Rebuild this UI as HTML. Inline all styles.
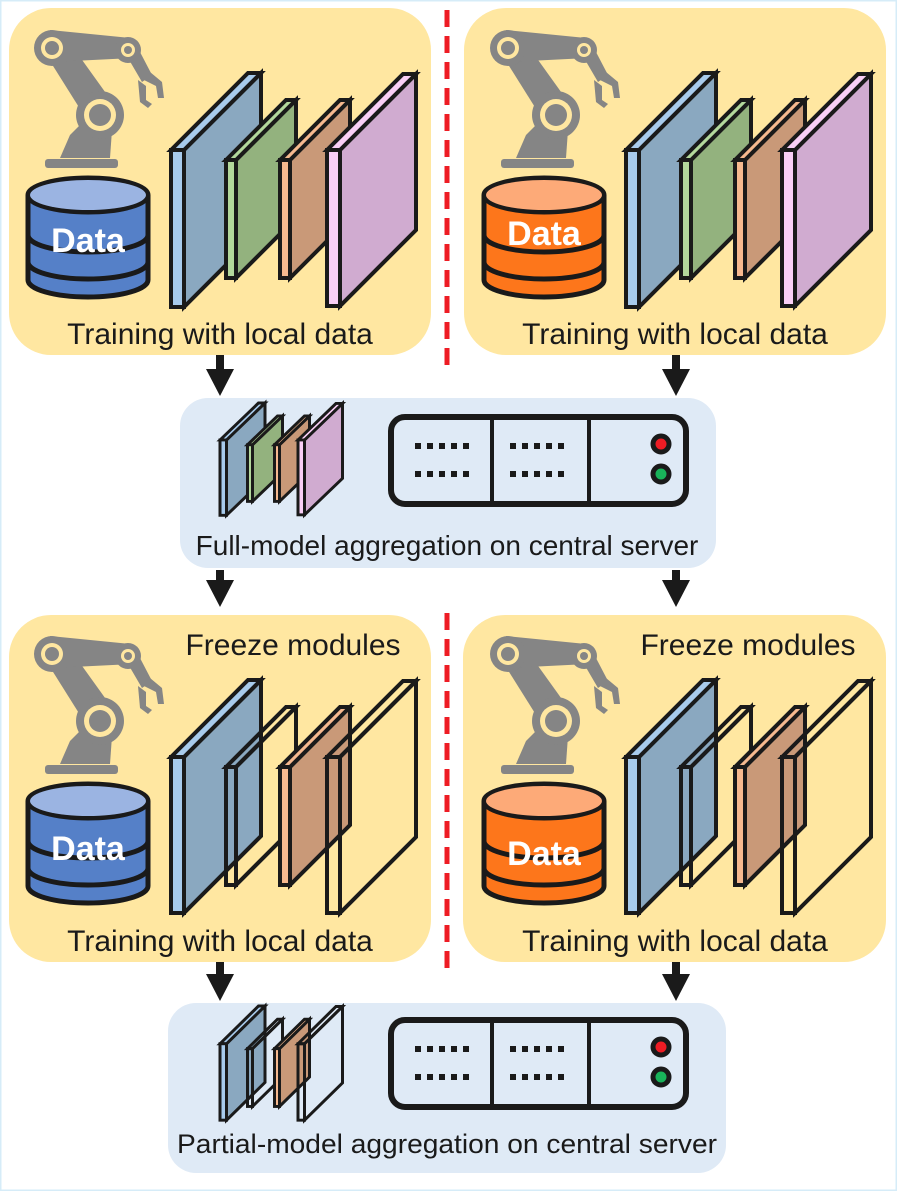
<!DOCTYPE html>
<html><head><meta charset="utf-8"><style>
html,body{margin:0;padding:0;background:#fff}
svg{display:block}
text{font-family:"Liberation Sans",sans-serif}
</style></head><body>
<svg width="897" height="1191" viewBox="0 0 897 1191" xmlns="http://www.w3.org/2000/svg">
<defs>
<g id="robot" fill="#858585">
  <rect x="45" y="159" width="73" height="9" rx="3"/>
  <polygon points="60,158 110,158 112,130 85,120 70,135"/>
  <polygon points="38,42 62,32 118,110 92,128"/>
  <circle cx="100" cy="115" r="24"/>
  <circle cx="100" cy="115" r="16" fill="#ffe7a1"/>
  <circle cx="100" cy="115" r="11"/>
  <polygon points="50,30 130,38 132,58 52,62"/>
  <circle cx="52" cy="48" r="18"/>
  <circle cx="52" cy="48" r="11" fill="#ffe7a1"/>
  <circle cx="52" cy="48" r="7"/>
  <circle cx="128" cy="50" r="13"/>
  <circle cx="128" cy="50" r="7" fill="#ffe7a1"/>
  <circle cx="128" cy="50" r="4"/>
  <polygon points="128,58 140,52 152,75 142,82"/>
  <polygon points="140,78 150,72 162,82 164,98 158,98 156,86"/>
  <polygon points="138,80 146,86 146,100 152,104 148,108 140,102"/>
</g>
<g id="db" stroke="#1a1a1a" stroke-width="5">
  <path d="M28,195 V280 A60,17 0 0 0 148,280 V195" />
  <ellipse cx="88" cy="195" rx="60" ry="17"/>
  <path d="M28,235 A60,17 0 0 0 148,235" fill="none"/>
  <path d="M28,262 A60,17 0 0 0 148,262" fill="none"/>
</g>
<g id="stackFull" stroke="#1a1a1a" stroke-linejoin="miter">
 <polygon points="184,150 261,73 261,230 184,307" fill="#8aa8c0"/>
 <polygon points="171,150 248,73 261,73 184,150" fill="#a8cbec"/>
 <rect x="171" y="150" width="13" height="157" fill="#a8cbec"/>
 <polygon points="236,160 296,100 296,218 236,278" fill="#93b27e"/>
 <polygon points="226,160 286,100 296,100 236,160" fill="#b3d89c"/>
 <rect x="226" y="160" width="10" height="118" fill="#b3d89c"/>
 <polygon points="290,160 350,100 350,218 290,278" fill="#c99978"/>
 <polygon points="280,160 340,100 350,100 290,160" fill="#f6b98f"/>
 <rect x="280" y="160" width="10" height="118" fill="#f6b98f"/>
 <polygon points="340,150 416,74 416,230 340,306" fill="#d0abd0"/>
 <polygon points="327,150 403,74 416,74 340,150" fill="#f9cff6"/>
 <rect x="327" y="150" width="13" height="156" fill="#f9cff6"/>
</g>
<g id="stackPart" stroke="#1a1a1a" stroke-linejoin="miter">
 <polygon points="184,757 261,680 261,836 184,913" fill="#8aa8c0"/>
 <polygon points="171,757 248,680 261,680 184,757" fill="#a8cbec"/>
 <rect x="171" y="757" width="13" height="156" fill="#a8cbec"/>
 <polygon points="236,767 296,707 296,825 236,885" fill="none"/>
 <polygon points="226,767 286,707 296,707 236,767" fill="none"/>
 <rect x="226" y="767" width="10" height="118" fill="none"/>
 <polygon points="290,767 350,707 350,825 290,885" fill="#c99978"/>
 <polygon points="280,767 340,707 350,707 290,767" fill="#f6b98f"/>
 <rect x="280" y="767" width="10" height="118" fill="#f6b98f"/>
 <polygon points="340,757 416,681 416,837 340,913" fill="none"/>
 <polygon points="327,757 403,681 416,681 340,757" fill="none"/>
 <rect x="327" y="757" width="13" height="156" fill="none"/>
</g>
<g id="server" stroke="#1a1a1a" fill="none">
 <rect x="391" y="417" width="295" height="87" rx="14" stroke-width="6"/>
 <line x1="492" y1="417" x2="492" y2="504" stroke-width="4"/>
 <line x1="589" y1="417" x2="589" y2="504" stroke-width="4"/>
 <line x1="415" y1="446" x2="470" y2="446" stroke-width="6" stroke-dasharray="6,6"/>
 <line x1="415" y1="474" x2="470" y2="474" stroke-width="6" stroke-dasharray="6,6"/>
 <line x1="510" y1="446" x2="565" y2="446" stroke-width="6" stroke-dasharray="6,6"/>
 <line x1="510" y1="474" x2="565" y2="474" stroke-width="6" stroke-dasharray="6,6"/>
 <circle cx="661" cy="444" r="8" fill="#ee1c24" stroke-width="5"/>
 <circle cx="661" cy="474" r="8" fill="#19b35a" stroke-width="5"/>
</g>
</defs>

<rect x="0.5" y="0.5" width="896" height="1190" fill="#fff" stroke="#d6ecf8" stroke-width="2"/>

<rect x="9" y="8" width="422" height="347" rx="42" fill="#ffe7a1"/>
<rect x="464" y="8" width="422" height="347" rx="42" fill="#ffe7a1"/>
<rect x="9" y="615" width="422" height="347" rx="42" fill="#ffe7a1"/>
<rect x="463" y="615" width="423" height="347" rx="42" fill="#ffe7a1"/>
<rect x="180" y="398" width="536" height="170" rx="28" fill="#dfeaf6"/>
<rect x="168" y="1003" width="558" height="170" rx="28" fill="#dfeaf6"/>

<line x1="447" y1="10" x2="447" y2="368" stroke="#ee1c24" stroke-width="5" stroke-dasharray="17,9"/>
<line x1="447" y1="613" x2="447" y2="975" stroke="#ee1c24" stroke-width="5" stroke-dasharray="17,9"/>

<g fill="#1a1a1a">
<rect x="216" y="355" width="8" height="16"/><polygon points="206,369 234,369 220,396"/>
<rect x="672" y="355" width="8" height="16"/><polygon points="662,369 690,369 676,396"/>
<rect x="216" y="570" width="8" height="12"/><polygon points="206,580 234,580 220,607"/>
<rect x="672" y="570" width="8" height="12"/><polygon points="662,580 690,580 676,607"/>
<rect x="216" y="962" width="8" height="14"/><polygon points="206,974 234,974 220,1001"/>
<rect x="672" y="962" width="8" height="14"/><polygon points="662,974 690,974 676,1001"/>
</g>

<use href="#robot"/>
<use href="#robot" x="456"/>
<use href="#robot" y="606"/>
<use href="#robot" x="456" y="606"/>
<use href="#db" fill="#5580c8"/>
<ellipse cx="88" cy="195" rx="58" ry="15" fill="#9bb4e2"/>
<use href="#db" x="456" fill="#fd761b"/>
<ellipse cx="544" cy="195" rx="58" ry="15" fill="#fdaa78"/>
<use href="#db" y="606" fill="#5580c8"/>
<ellipse cx="88" cy="801" rx="58" ry="15" fill="#9bb4e2"/>
<use href="#db" x="456" y="606" fill="#fd761b"/>
<ellipse cx="544" cy="801" rx="58" ry="15" fill="#fdaa78"/>
<g fill="#fff" font-weight="bold" font-size="34" text-anchor="middle">
<text x="88" y="252">Data</text>
<text x="544" y="245">Data</text>
<text x="88" y="860">Data</text>
<text x="544" y="865">Data</text>
</g>

<use href="#stackFull" stroke-width="4"/>
<use href="#stackFull" x="455" stroke-width="4"/>
<use href="#stackPart" stroke-width="4"/>
<use href="#stackPart" x="455" stroke-width="4"/>

<use href="#stackFull" stroke-width="6" transform="translate(220,403) scale(0.5,0.48) translate(-171,-73)"/>
<use href="#stackPart" stroke-width="6" transform="translate(220,1006) scale(0.5,0.49) translate(-171,-680)"/>

<use href="#server"/>
<use href="#server" y="603"/>

<g fill="#1a1a1a" font-size="30" text-anchor="middle">
<text x="220" y="344">Training with local data</text>
<text x="675" y="344">Training with local data</text>
<text x="220" y="951">Training with local data</text>
<text x="675" y="951">Training with local data</text>
<text x="293" y="655">Freeze modules</text>
<text x="748" y="655">Freeze modules</text>
<text x="447" y="555" font-size="28">Full-model aggregation on central server</text>
<text x="447" y="1153" font-size="27" textLength="540" lengthAdjust="spacingAndGlyphs">Partial-model aggregation on central server</text>
</g>
</svg>
</body></html>
